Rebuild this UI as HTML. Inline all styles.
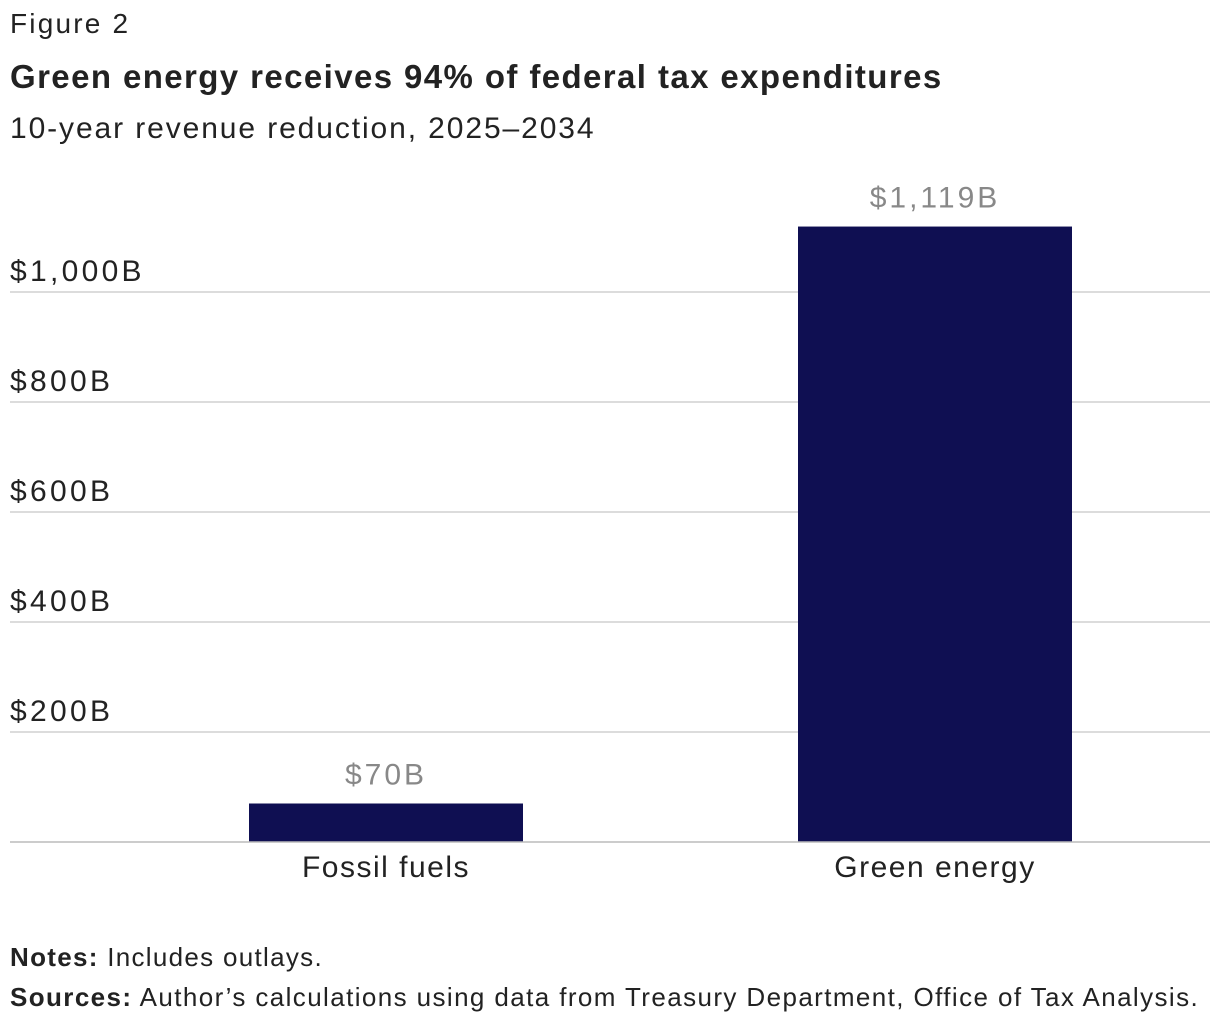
<!DOCTYPE html>
<html><head><meta charset="utf-8"><style>
body{margin:0;background:#fff;width:1220px;height:1032px;overflow:hidden;font-family:"Liberation Sans",sans-serif;color:#222}
.t{position:absolute;left:10px;white-space:nowrap}
</style></head><body>
<div class="t" style="top:8px;font-size:28px;letter-spacing:2.2px">Figure 2</div>
<div class="t" style="top:58px;font-size:33px;font-weight:bold;letter-spacing:1.4px">Green energy receives 94% of federal tax expenditures</div>
<div class="t" style="top:112px;font-size:30px;letter-spacing:1.9px">10-year revenue reduction, 2025–2034</div>
<svg id="c" width="1220" height="1032" style="position:absolute;left:0;top:0"></svg>
<div class="t" style="top:942px;font-size:26px;letter-spacing:1.3px"><b>Notes:</b> Includes outlays.</div>
<div class="t" style="top:982px;font-size:26px;letter-spacing:1.4px"><b>Sources:</b> Author’s calculations using data from Treasury Department, Office of Tax Analysis.</div>
<script>
const categories=["Fossil fuels","Green energy"];
const values=[70,1119];
const valueLabels=["$70B","$1,119B"];
const ticks=[200,400,600,800,1000];
const tickLabels=["$200B","$400B","$600B","$800B","$1,000B"];
const svg=document.getElementById('c');const ns="http://www.w3.org/2000/svg";
const y=v=>842-v*0.55;const x=i=>386+i*549;const bw=274;
function mk(t,a){const e=document.createElementNS(ns,t);for(const k in a)e.setAttribute(k,a[k]);svg.appendChild(e);return e;}
ticks.forEach((t,i)=>{
const l=mk('line',{x1:10,x2:1210,y1:y(t),y2:y(t),stroke:'#d0d0d0','stroke-width':1.5});


const tx=mk('text',{x:10,y:y(t)-11,'font-size':30,fill:'#222','letter-spacing':'3.3'});tx.textContent=tickLabels[i];


});
categories.forEach((c,i)=>{
const r=mk('rect',{x:x(i)-bw/2,y:y(values[i]),width:bw,height:842-y(values[i]),fill:'#0f0f52'});


const v=mk('text',{x:x(i),y:y(values[i])-19,'font-size':30,fill:'#888','text-anchor':'middle','letter-spacing':'3'});v.textContent=valueLabels[i];


const cl=mk('text',{x:x(i),y:877,'font-size':30,fill:'#222','text-anchor':'middle','letter-spacing':'1.5'});cl.textContent=c;


});
const b=mk('line',{x1:10,x2:1210,y1:842,y2:842,stroke:'#bbb','stroke-width':1.5});


</script>
</body></html>
